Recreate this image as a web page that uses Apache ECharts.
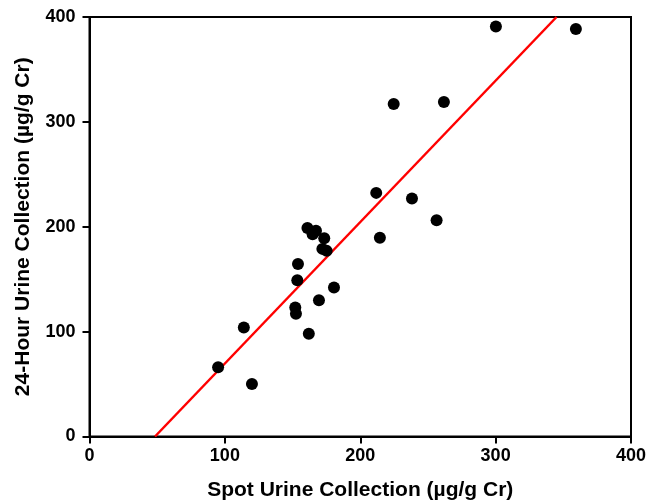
<!DOCTYPE html>
<html>
<head>
<meta charset="utf-8">
<script src="https://cdn.jsdelivr.net/npm/echarts@6/dist/echarts.min.js"></script>
<style>
html,body{margin:0;padding:0;background:#fff;}
#chart{width:661px;height:503px;}
</style>
</head>
<body>
<div id="chart"></div>
<script>
const spotX = [95, 120, 114, 152, 152.5, 162, 169.5, 180.6, 153.5, 154, 161, 164.8, 167.3, 173.4, 172, 175.2, 211.8, 214.5, 238.2, 256.4, 224.7, 261.8, 300.2, 359.3];
const dayY  = [66, 50, 104, 123, 117, 98, 130, 142, 149, 164.5, 198.7, 192.9, 196.1, 189.1, 178.9, 177, 232.3, 189.4, 226.9, 206.3, 317, 318.9, 391, 388.5];
const fitX = [48.4, 345];
const fitY = [0, 400];
const xTicks = [0, 100, 200, 300, 400];
const yTicks = [0, 100, 200, 300, 400];

const font = '"Liberation Sans", Arial, Helvetica, sans-serif';
const chart = echarts.init(document.getElementById('chart'), null, {renderer: 'canvas'});
const pts = spotX.map((x, i) => [x, dayY[i]]);
const fit = fitX.map((x, i) => [x, fitY[i]]);

chart.setOption({
  animation: false,
  backgroundColor: '#fff',
  grid: {left: 89.5, right: 30, top: 17, bottom: 66.5, show: true, borderColor: '#000', borderWidth: 2, containLabel: false, outerBoundsMode: 'none'},
  xAxis: {
    type: 'value', min: xTicks[0], max: xTicks[xTicks.length - 1], interval: 100,
    name: 'Spot Urine Collection (\u00b5g/g Cr)', nameLocation: 'middle', nameGap: 43,
    nameTextStyle: {fontFamily: font, fontWeight: 'bold', fontSize: 21, color: '#000'},
    axisLine: {show: true, onZero: false, lineStyle: {color: '#000', width: 2}},
    axisTick: {show: true, inside: false, length: 7, lineStyle: {color: '#000', width: 2}},
    axisLabel: {margin: 11, fontFamily: font, fontWeight: 'bold', fontSize: 18, color: '#000'},
    splitLine: {show: false}
  },
  yAxis: {
    type: 'value', min: yTicks[0], max: yTicks[yTicks.length - 1], interval: 100,
    name: '24-Hour Urine Collection (\u00b5g/g Cr)', nameLocation: 'middle', nameGap: 56,
    nameTextStyle: {fontFamily: font, fontWeight: 'bold', fontSize: 21, color: '#000'},
    axisLine: {show: true, onZero: false, lineStyle: {color: '#000', width: 2}},
    axisTick: {show: true, inside: false, length: 7, lineStyle: {color: '#000', width: 2}},
    axisLabel: {margin: 14, fontFamily: font, fontWeight: 'bold', fontSize: 18, color: '#000'},
    splitLine: {show: false}
  },
  series: [
    {
      type: 'line', data: fit, showSymbol: false, symbol: 'none',
      lineStyle: {color: '#ff0000', width: 2.5}, z: 2, silent: true, clip: true
    },
    {
      type: 'scatter', data: pts, symbol: 'circle', symbolSize: 12,
      itemStyle: {color: '#000', opacity: 1}, z: 3
    }
  ]
});
</script>
</body>
</html>
